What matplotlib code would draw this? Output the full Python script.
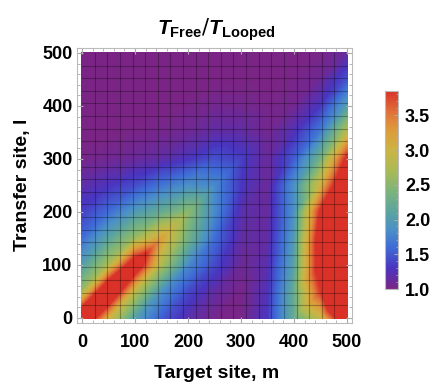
import numpy as np
import matplotlib
matplotlib.use("Agg")
import matplotlib.pyplot as plt
import matplotlib.tri as mtri
from matplotlib.colors import LinearSegmentedColormap, Normalize
from matplotlib.ticker import MultipleLocator

plt.rcParams['font.family'] = ['Liberation Sans', 'DejaVu Sans']
plt.rcParams['mathtext.fontset'] = 'custom'
plt.rcParams['mathtext.bf'] = 'Liberation Sans:bold'
plt.rcParams['mathtext.bfit'] = 'Liberation Sans:bold:italic'

# grid of target sites m (columns) and transfer sites l (rows)
m_sites = [0, 50, 100, 150, 200, 250, 300, 350, 400, 450, 500]
l_sites = [0, 50, 100, 150, 200, 250, 300, 350, 400, 450, 500]

# T_Free / T_Looped, one row per transfer site l
ratio = [
    [4.6, 3.0, 2.0, 1.5, 1.2, 1.03, 1.02, 1.3, 2.2, 2.9, 4.5],
    [2.6, 4.6, 2.8, 1.85, 1.4, 1.15, 1.02, 1.25, 2.2, 3.8, 6.0],
    [2.0, 2.7, 4.3, 2.7, 1.8, 1.4, 1.08, 1.2, 2.05, 4.2, 6.0],
    [1.6, 2.1, 2.6, 3.2, 2.3, 1.6, 1.15, 1.15, 1.95, 4.2, 6.0],
    [1.35, 1.6, 1.95, 2.2, 2.5, 1.8, 1.2, 1.12, 1.85, 3.9, 5.5],
    [1.18, 1.28, 1.42, 1.65, 1.85, 1.8, 1.3, 1.1, 1.85, 3.0, 4.7],
    [1.03, 1.06, 1.1, 1.16, 1.28, 1.45, 1.35, 1.1, 1.5, 2.3, 3.95],
    [1.0, 1.0, 1.02, 1.04, 1.08, 1.16, 1.16, 1.05, 1.25, 1.7, 2.8],
    [1.0, 1.0, 1.0, 1.0, 1.02, 1.05, 1.05, 1.02, 1.05, 1.3, 2.0],
    [1.0, 1.0, 1.0, 1.0, 1.0, 1.0, 1.0, 1.0, 1.02, 1.08, 1.45],
    [1.0, 1.0, 1.0, 1.0, 1.0, 1.0, 1.0, 1.0, 1.0, 1.02, 1.12],
]

cbar_ticks = [1.0, 1.5, 2.0, 2.5, 3.0, 3.5]
vmin, vmax = 1.0, 3.85
mesh_lines = 20

# rainbow-like colour function
stops = [(0.0, '#7a2586'), (0.105, '#4a35c0'), (0.21, '#3f6bd6'),
         (0.298, '#4a8fc8'), (0.386, '#5aa3a0'), (0.491, '#7bb47c'),
         (0.596, '#a9ba55'), (0.702, '#ccb444'), (0.807, '#de9a3a'),
         (0.895, '#e0713a'), (1.0, '#da3228')]
cmap = LinearSegmentedColormap.from_list('rainbow_m', stops)
cmap.set_over('#da3228')
norm = Normalize(vmin=vmin, vmax=vmax)

# triangulation with cells split along the l = m diagonal
M, L = np.meshgrid(m_sites, l_sites)
Z = np.array(ratio)
nr, nc = Z.shape
tris = []
for i in range(nr - 1):
    for j in range(nc - 1):
        a = i * nc + j
        b = a + 1
        c = a + nc + 1
        d = a + nc
        tris.append([a, b, c])
        tris.append([a, c, d])
tri = mtri.Triangulation(M.ravel(), L.ravel(), tris)

fig = plt.figure(figsize=(4.36, 3.83), dpi=100)
ax = fig.add_axes([0.176, 0.156, 0.632, 0.7196])

levels = np.linspace(vmin, vmax, 200)
cs = ax.tricontourf(tri, Z.ravel(), levels=levels, cmap=cmap, norm=norm, extend='max')
cs.set_edgecolor('face')
cs.set_linewidth(0.3)

# mesh lines
for k in range(1, mesh_lines + 1):
    p = k * 500 / (mesh_lines + 1)
    ax.plot([p, p], [0, 500], color='black', lw=0.8, alpha=0.3)
    ax.plot([0, 500], [p, p], color='black', lw=0.8, alpha=0.3)

# clipped region drawn on top (no mesh there)
over = ax.tricontourf(tri, Z.ravel(), levels=[vmax, 100], colors=['#da3228'])
over.set_edgecolor('face')
over.set_linewidth(0.3)

ax.set_xlim(-10, 510)
ax.set_ylim(-10, 510)
ax.xaxis.set_major_locator(MultipleLocator(100))
ax.yaxis.set_major_locator(MultipleLocator(100))
ax.xaxis.set_minor_locator(MultipleLocator(20))
ax.yaxis.set_minor_locator(MultipleLocator(20))
ax.tick_params(which='both', direction='in', top=True, right=True, color='#aaaaaa')
ax.tick_params(which='major', length=4, width=0.8)
ax.tick_params(which='minor', length=2, width=0.6)
ax.tick_params(axis='x', pad=8, labelsize=13)
ax.tick_params(axis='y', pad=3, labelsize=13)
for lab in ax.get_xticklabels() + ax.get_yticklabels():
    lab.set_fontweight('bold')
for s in ax.spines.values():
    s.set_color('#bbbbbb')
    s.set_linewidth(0.8)

fig.text(0.496, 1 - 30 / 383, r'$\mathbfit{T}_{\mathbf{Free}}/\mathbfit{T}_{\mathbf{Looped}}$',
         ha='center', va='center', fontsize=15)
fig.text(0.496, 1 - 374 / 383, 'Target site, m', ha='center', va='center',
         fontsize=14, fontweight='bold')
fig.text(22 / 436, 1 - 185 / 383, 'Transfer site, l', ha='center', va='center',
         rotation=90, fontsize=14, fontweight='bold')

cax = fig.add_axes([385 / 436, 1 - 289 / 383, 13 / 436, 198 / 383])
sm = matplotlib.cm.ScalarMappable(norm=norm, cmap=cmap)
cb = fig.colorbar(sm, cax=cax, ticks=cbar_ticks)
cb.ax.set_yticklabels(['%.1f' % t for t in cbar_ticks], fontweight='bold')
cb.ax.yaxis.set_minor_locator(MultipleLocator(0.1))
cb.ax.tick_params(which='both', direction='in', color='#aaaaaa', labelsize=13, pad=5)
cb.ax.tick_params(which='major', length=3)
cb.ax.tick_params(which='minor', length=1.5)
cb.outline.set_edgecolor('#bbbbbb')
cb.outline.set_linewidth(0.8)

fig.savefig('out.png', dpi=100)
